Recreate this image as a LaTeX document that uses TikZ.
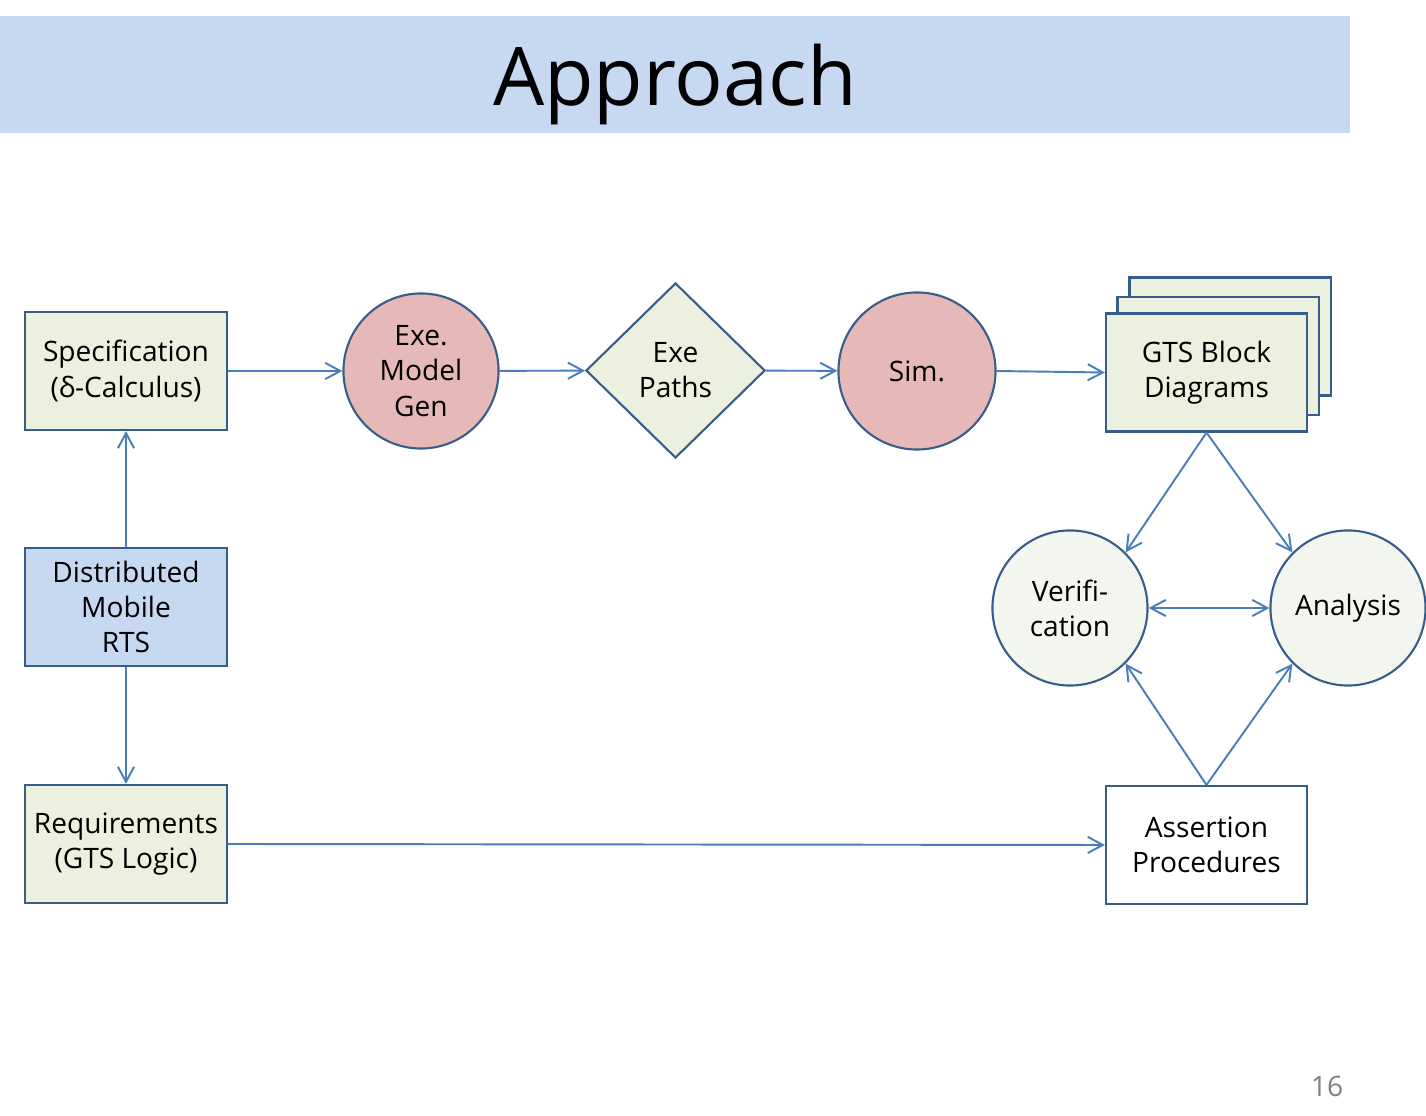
\documentclass[tikz,border=0pt]{standalone}
\usepackage{fontspec}
\setmainfont{Open Sans}
\usetikzlibrary{shapes.geometric,arrows.meta}
\definecolor{bordo}{HTML}{385D8A}
\definecolor{linea}{HTML}{4A7EBB}
\definecolor{verdino}{HTML}{EBF1DE}
\definecolor{azzurro}{HTML}{C6D9F1}
\definecolor{rosa}{HTML}{E6B9B8}
\definecolor{chiaro}{HTML}{F3F6EE}
\begin{document}
\begin{tikzpicture}[
    x=0.01cm, y=-0.01cm,
    blocco/.style={rectangle, draw=bordo, line width=0.6pt, minimum width=2.01cm, minimum height=1.18cm, inner sep=0pt, align=center, font=\fontsize{8}{10}\selectfont},
    cerchio/.style={circle, draw=bordo, line width=0.6pt, minimum size=1.55cm, inner sep=0pt, align=center, font=\fontsize{8}{10}\selectfont},
    rombo/.style={diamond, draw=bordo, fill=verdino, line width=0.6pt, minimum width=1.79cm, minimum height=1.75cm, inner sep=0pt, align=center, font=\fontsize{8}{10}\selectfont},
    freccia/.style={-{Straight Barb[length=4.3pt,width=4.6pt]}, draw=linea, line width=0.55pt},
    doppia/.style={{Straight Barb[length=4.3pt,width=4.6pt]}-{Straight Barb[length=4.3pt,width=4.6pt]}, draw=linea, line width=0.55pt}
]
    \useasboundingbox (0,0) rectangle (1426,1116);

    % 1. Titolo
    \fill[azzurro] (0,16) rectangle (1350,133);
    \node[font=\fontsize{23}{28}\selectfont] (titolo) at (675,84) {Approach};

    % 2. Riga superiore
    \node[blocco, fill=verdino] (spec) at (126,371) {Specification\\(δ-Calculus)};
    \node[cerchio, fill=rosa]   (gen)  at (421,371) {Exe.\\Model\\Gen};
    \node[rombo]                (path) at (675.5,370.5) {Exe\\Paths};
    \node[cerchio, fill=rosa, minimum size=1.57cm] (sim) at (917,371) {Sim.};
    % pila di diagrammi
    \node[blocco, fill=verdino] (gts3) at (1230,336.5) {};
    \node[blocco, fill=verdino] (gts2) at (1218,356) {};
    \node[blocco, fill=verdino] (gts)  at (1206.5,372.5) {GTS Block\\Diagrams};

    % 3. Colonna sinistra
    \node[blocco, fill=azzurro] (rts) at (126,607) {Distributed\\Mobile\\RTS};
    \node[blocco, fill=verdino] (req) at (126,844) {Requirements\\(GTS Logic)};

    % 4. Lato destro
    \node[cerchio, fill=chiaro] (ver) at (1070,608) {Verifi-\\cation};
    \node[cerchio, fill=chiaro] (ana) at (1348,608) {Analysis};
    \node[blocco, fill=white]   (ass) at (1206.5,845) {Assertion\\Procedures};

    % numero di pagina
    \node[text=gray, font=\fontsize{8}{10}\selectfont] (pag) at (1327,1086) {16};

    % 5. Frecce
    \draw[freccia] (spec) -- (gen);
    \draw[freccia] (gen) -- (path);
    \draw[freccia] (path) -- (sim);
    \draw[freccia] (sim.east) -- (gts.west);
    \draw[freccia] (rts) -- (spec);
    \draw[freccia] (rts) -- (req);
    \draw[freccia] (req.east) -- (ass.west);
    \draw[freccia] (gts.south) -- (ver.45);
    \draw[freccia] (gts.south) -- (ana.135);
    \draw[freccia] (ass.north) -- (ver.-45);
    \draw[freccia] (ass.north) -- (ana.-135);
    \draw[doppia] (ver) -- (ana);

\end{tikzpicture}
\end{document}
